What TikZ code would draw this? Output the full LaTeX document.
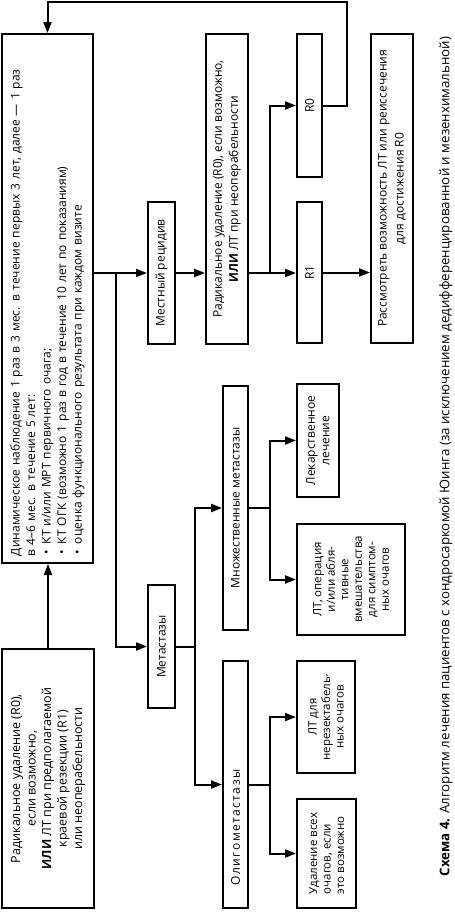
\documentclass[tikz,border=0pt]{standalone}
\usepackage{fontspec}
\setmainfont{Open Sans}
\usetikzlibrary{arrows.meta,calc}
\newcommand{\bul}{\makebox[12pt][l]{\hspace{2pt}\textbullet}}
\newcommand{\lsp}[1]{\addfontfeatures{LetterSpace=#1}}
\begin{document}
\begin{tikzpicture}[x=1pt,y=-1pt,
  box/.style={draw, line width=2pt, rotate=90, inner sep=3pt, align=center,
    font=\fontsize{12}{14.5}\selectfont},
  arr/.style={line width=2pt, -{Triangle[length=11pt,width=8pt]}},
  ln/.style={line width=2pt}]
\useasboundingbox (0,0) rectangle (455,913);
% left column
\node[box, minimum width=529pt, minimum height=91pt, text width=515pt, align=left,
  font=\fontsize{12}{15.5}\selectfont] (b1) at (47.5,298.5)
  {Динамическое наблюдение 1 раз в 3 мес. в течение первых 3 лет, далее — 1 раз\\
   в 4–6 мес. в течение 5 лет:\\
   \bul КТ и/или МРТ первичного очага;\\
   \bul КТ ОГК (возможно 1 раз в год в течение 10 лет по показаниям)\\
   \bul оценка функционального результата при каждом визите};
\node[box, minimum width=259pt, minimum height=92pt, font=\fontsize{12.5}{15.5}\selectfont] (b2) at (48,778.5)
  {Радикальное удаление (R0),\\ если возможно,\\ \textbf{ИЛИ} ЛТ при предполагаемой\\ краевой резекции (R1)\\ или неоперабельности};
% second column
\node[box, minimum width=142pt, minimum height=27pt] (rec) at (161.5,273) {Местный рецидив};
\node[box, minimum width=123pt, minimum height=27pt] (met) at (161.5,646.5) {Метастазы};
% third column
\node[box, minimum width=310pt, minimum height=42pt, font=\fontsize{12}{16}\selectfont] (rad) at (227,189)
  {Радикальное удаление (R0), если возможно,\\ \textbf{ИЛИ} ЛТ при неоперабельности};
\node[box, minimum width=244pt, minimum height=25pt] (mult) at (235.5,508) {Множественные метастазы};
\node[box, minimum width=247pt, minimum height=25pt, text width=237pt, align=left] (oligo) at (235.5,784.5)
  {\hspace*{18pt}\lsp{12}Олигометастазы};
% fourth column
\node[box, minimum width=143pt, minimum height=25pt] (r0) at (309.5,105.5) {R0};
\node[box, minimum width=141pt, minimum height=25pt] (r1) at (309.5,272.5) {R1};
\node[box, minimum width=113pt, minimum height=42pt] (drug) at (318,440.5) {Лекарственное\\ лечение};
\node[box, minimum width=111pt, minimum height=108pt, font=\fontsize{11.5}{13.5}\selectfont] (ltop) at (351,579.5)
  {ЛТ, операция\\ и/или абля-\\ тивные\\ вмешательства\\ для симптом-\\ ных очагов};
\node[box, minimum width=112pt, minimum height=58pt, font=\fontsize{11.5}{13.5}\selectfont] (ltdl) at (326,717)
  {ЛТ для\\ нерезектабель-\\ ных очагов};
\node[box, minimum width=109pt, minimum height=59pt, align=left, font=\fontsize{11.5}{13.5}\selectfont] (del) at (326.5,853.5)
  {Удаление всех\\ очагов, если\\ это возможно};
% fifth column
\node[box, minimum width=309pt, minimum height=42pt, font=\fontsize{12}{17}\selectfont] (cons) at (392,188.5)
  {Рассмотреть возможность ЛТ или реиссечения\\ для достижения R0};
% caption
\node[rotate=90, font=\fontsize{13.3}{15}\selectfont] (cap) at (446,456.5)
  {\textbf{Схема 4.} Алгоритм лечения пациентов с хондросаркомой Юинга (за исключением дедифференцированной и мезенхимальной)};
% connectors
\draw[arr] (b2.east) -- (b2.east |- b1.west);
\draw[arr] (b1.south |- rec.north) -- (rec.north);
\path (rec.north) ++(-31,0) coordinate (j1);
\draw[arr] (j1) |- (met.north);
\draw[arr] (rec.south) -- (rec.south -| rad.north);
\draw[ln] (rad.south |- rec.south) -- ++(21,0) coordinate (j2);
\draw[arr] (j2) -- (j2 -| r1.north);
\draw[arr] (j2) |- (r0.north);
\draw[arr] (r1.south) -- (r1.south -| cons.north);
\coordinate (topc) at (347,2);
\draw[arr] (r0.south) -| (topc) -| (b1.east);
\draw[ln] (met.south) -- ++(19,0) coordinate (j3);
\draw[arr] (j3) |- (mult.north);
\draw[arr] (j3) |- (oligo.north);
\draw[ln] (mult.south) -- ++(21,0) coordinate (j4);
\draw[arr] (j4) |- (drug.north);
\draw[arr] (j4) |- (ltop.north);
\draw[ln] (oligo.south) -- ++(21,0) coordinate (j5);
\draw[arr] (j5) |- (ltdl.north);
\draw[arr] (j5) |- (del.north);
\end{tikzpicture}
\end{document}
